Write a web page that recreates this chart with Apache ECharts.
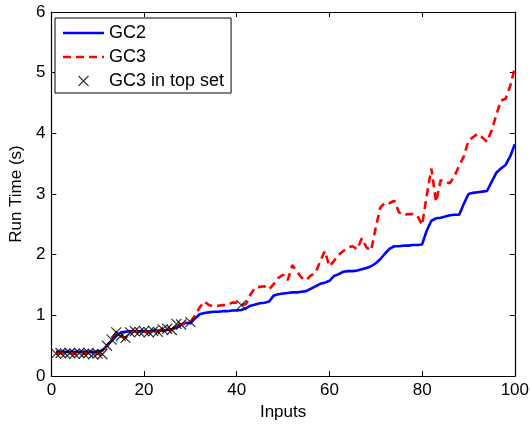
<!DOCTYPE html>
<html>
<head>
<meta charset="utf-8">
<script src="https://cdn.jsdelivr.net/npm/echarts@6/dist/echarts.min.js"></script>
<style>
html,body{margin:0;padding:0;background:#fff;}
#c{width:532px;height:426px;}
</style>
</head>
<body>
<div id="c"></div>
<script>
// Run time (s) per input index 1..100
var gc2 = [
 0.40,0.40,0.40,0.40,0.40,0.40,0.40,0.40,0.40,0.40,
 0.42,0.50,0.58,0.66,0.72,0.73,0.74,0.74,0.74,0.74,
 0.74,0.75,0.75,0.75,0.76,0.77,0.80,0.84,0.88,0.87,
 0.95,1.02,1.04,1.05,1.06,1.06,1.07,1.07,1.08,1.08,
 1.09,1.12,1.16,1.18,1.20,1.21,1.23,1.33,1.35,1.36,
 1.37,1.38,1.38,1.39,1.40,1.44,1.48,1.52,1.54,1.57,
 1.65,1.68,1.72,1.73,1.73,1.74,1.76,1.78,1.81,1.86,
 1.93,2.02,2.10,2.14,2.14,2.15,2.15,2.16,2.16,2.17,
 2.40,2.56,2.60,2.61,2.63,2.65,2.66,2.66,2.84,3.00,
 3.02,3.03,3.04,3.05,3.20,3.35,3.42,3.48,3.62,3.82
];
var gc3 = [
 0.37,0.38,0.37,0.38,0.37,0.38,0.37,0.38,0.36,0.37,
 0.36,0.50,0.60,0.72,0.66,0.63,0.72,0.74,0.73,0.74,
 0.72,0.74,0.73,0.77,0.78,0.76,0.86,0.85,0.88,0.89,
 1.00,1.13,1.23,1.17,1.15,1.16,1.17,1.17,1.21,1.21,
 1.17,1.19,1.35,1.46,1.47,1.48,1.43,1.52,1.62,1.67,
 1.58,1.83,1.72,1.62,1.58,1.66,1.70,1.89,2.06,1.81,
 1.90,2.00,2.06,2.12,2.14,2.09,2.27,2.12,2.07,2.45,
 2.78,2.86,2.85,2.89,2.70,2.65,2.67,2.67,2.64,2.49,
 2.98,3.42,2.87,3.23,3.20,3.18,3.30,3.47,3.62,3.88,
 3.94,3.99,3.93,3.86,4.05,4.30,4.54,4.57,4.78,5.08
];
// inputs where GC3 is in the top set
var topSetInputs = [1,2,3,4,5,6,7,8,9,10,11,12,13,14,15,16,17,18,19,20,21,22,23,24,25,26,27,28,30,41];
var xTicks = [0,20,40,60,80,100];
var yTicks = [0,1,2,3,4,5,6];

function pairs(arr){ return arr.map(function(v,i){ return [i+1, v]; }); }
var topSet = topSetInputs.map(function(x){ return [x, gc3[x-1]]; });

var FONT = 'Liberation Sans, Arial, Helvetica, sans-serif';
var crossPath = 'path://M0,0L10,10M10,0L0,10';
var solidIcon = 'path://M0,0h41v2.6h-41z';
var dashIcon = 'path://M0,0h8v2.6h-8zM13,0h8v2.6h-8zM26,0h8v2.6h-8zM39,0h2v2.6h-2z';

var chart = echarts.init(document.getElementById('c'), null, {renderer:'canvas'});
var axisCommon = {
  axisLine:{show:true, onZero:false, lineStyle:{color:'#000', width:1.2}},
  axisTick:{show:true, inside:true, length:5, lineStyle:{color:'#000', width:1}},
  splitLine:{show:false}
};
chart.setOption({
  animation:false,
  backgroundColor:'#fff',
  grid:{left:49, right:17, top:12, bottom:47, containLabel:false},
  legend:{
    orient:'vertical', left:55, top:18,
    backgroundColor:'#fff',
    borderColor:'#000', borderWidth:1, borderRadius:0,
    padding:[6,7,3,8],
    itemWidth:41, itemHeight:10, itemGap:6,
    textStyle:{fontFamily:FONT, fontSize:18, color:'#000', padding:[0,0,0,0]},
    data:[
      {name:'GC2', icon: solidIcon, itemStyle:{color:'#0000ff'}},
      {name:'GC3', icon: dashIcon, itemStyle:{color:'#ff0000'}},
      {name:'GC3 in top set', icon: crossPath, itemStyle:{color:'rgba(0,0,0,0)', borderColor:'#000', borderWidth:1.1}}
    ]
  },
  xAxis:[
    Object.assign({type:'value', min:0, max:100, interval:20, position:'bottom',
      name:'Inputs', nameLocation:'middle', nameGap:22,
      nameTextStyle:{fontFamily:FONT, fontSize:17, color:'#000'},
      axisLabel:{show:true, margin:6, fontFamily:FONT, fontSize:17, color:'#000',
        formatter:function(v){ return xTicks.indexOf(v)>=0 ? String(v) : ''; }}
    }, axisCommon),
    Object.assign({type:'value', min:0, max:100, interval:20, position:'top',
      axisLabel:{show:false}}, axisCommon)
  ],
  yAxis:[
    Object.assign({type:'value', min:0, max:6, interval:1, position:'left',
      name:'Run Time (s)', nameLocation:'middle', nameGap:22,
      nameTextStyle:{fontFamily:FONT, fontSize:17, color:'#000'},
      axisLabel:{show:true, margin:6, fontFamily:FONT, fontSize:17, color:'#000',
        formatter:function(v){ return yTicks.indexOf(v)>=0 ? String(v) : ''; }}
    }, axisCommon),
    Object.assign({type:'value', min:0, max:6, interval:1, position:'right',
      axisLabel:{show:false}}, axisCommon)
  ],
  series:[
    {name:'GC2', type:'line', xAxisIndex:0, yAxisIndex:0, data:pairs(gc2),
     symbol:'none', color:'#0000ff',
     lineStyle:{color:'#0000ff', width:2.6}, z:2},
    {name:'GC3', type:'line', xAxisIndex:0, yAxisIndex:0, data:pairs(gc3),
     symbol:'none', color:'#ff0000',
     lineStyle:{color:'#ff0000', width:2.6, type:[8,5]}, z:3},
    {name:'GC3 in top set', type:'scatter', xAxisIndex:0, yAxisIndex:0, data:topSet,
     symbol:crossPath, symbolSize:10,
     color:'#000',
     itemStyle:{color:'rgba(0,0,0,0)', borderColor:'#000', borderWidth:1.2},
     z:4}
  ]
});
</script>
</body>
</html>
